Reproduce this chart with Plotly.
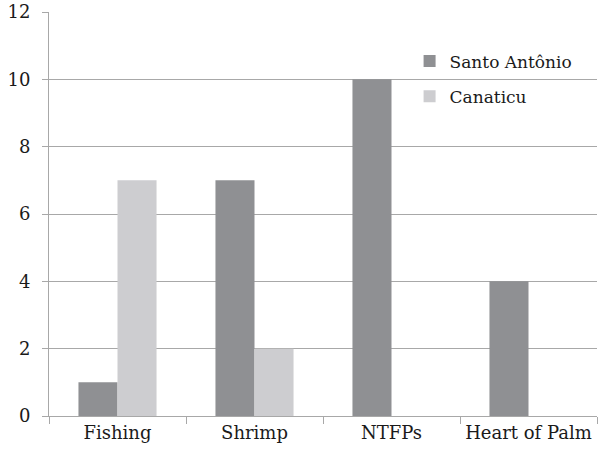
import plotly.graph_objects as go

categories = ["Fishing", "Shrimp", "NTFPs", "Heart of Palm"]
santo_antonio = [1, 7, 10, 4]
canaticu = [7, 2, 0, 0]
y_ticks = [0, 2, 4, 6, 8, 10, 12]

font_family = "DejaVu Serif"
text_color = "#1a1a1a"
grid_color = "#a8a8a8"

fig = go.Figure()
fig.add_trace(go.Bar(
    x=categories, y=santo_antonio, name="Santo Antônio",
    marker=dict(color="#8f9093", line=dict(width=0)),
    legendgroup="a",
))
fig.add_trace(go.Bar(
    x=categories, y=canaticu, name="Canaticu",
    marker=dict(color="#cdcdd0", line=dict(width=0)),
    legendgroup="b",
))

fig.update_layout(
    width=598, height=457,
    margin=dict(l=49, r=1, t=12, b=41),
    paper_bgcolor="white", plot_bgcolor="white",
    barmode="group", bargap=0.43, bargroupgap=0,
    font=dict(family=font_family, size=18, color=text_color),
    legend=dict(
        x=0.658, y=0.922, xanchor="left", yanchor="top",
        bgcolor="rgba(0,0,0,0)", traceorder="grouped",
        tracegroupgap=10, font=dict(family=font_family, size=17),
        itemwidth=30,
    ),
)
fig.update_xaxes(
    type="category", showgrid=False,
    showline=True, linecolor=grid_color, linewidth=1,
    ticks="outside", tickson="boundaries", ticklen=7,
    tickcolor=grid_color, tickfont=dict(family=font_family, size=18),
)
fig.update_yaxes(
    range=[0, 12], tickvals=y_ticks,
    showgrid=True, gridcolor=grid_color, gridwidth=1,
    showline=True, linecolor=grid_color, linewidth=1,
    ticks="outside", ticklen=6, tickcolor=grid_color,
    tickfont=dict(family=font_family, size=18), zeroline=False,
    ticklabelstandoff=8,
)

fig.write_html("out.html")
